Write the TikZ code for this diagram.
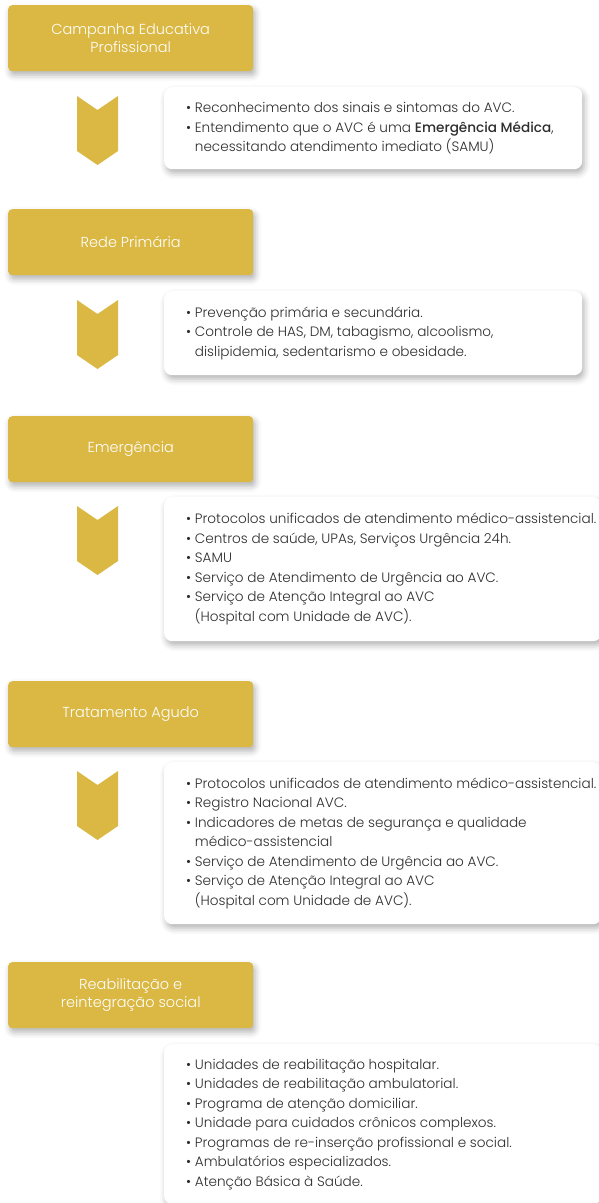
\documentclass[tikz,border=0pt]{standalone}
\usepackage{fontspec}
\setmainfont{Poppins}[UprightFont={* Light}, BoldFont={* Medium}]
\usepackage{tikz}
\usetikzlibrary{positioning,shadows.blur}

\definecolor{ouro}{HTML}{DAB843}
\definecolor{texto}{HTML}{2E2E2E}

\tikzset{
  sombra/.style={blur shadow={shadow xshift=2pt, shadow yshift=-4pt,
      shadow blur radius=6pt, shadow opacity=30}},
  etapa/.style={rectangle, rounded corners=4pt, fill=ouro, text=white,
      minimum width=245, minimum height=66, align=center, sombra,
      font=\fontsize{14.5}{18}\selectfont},
  caixa/.style={rectangle, rounded corners=8pt, fill=white, sombra},
  itens/.style={align=left, inner sep=0pt, text=texto,
      font=\fontsize{13.6}{19.5}\selectfont},
  seta/.pic={\fill[ouro] (0,0) -- (20.5,14) -- (41,0) -- (41,55)
      -- (20.5,69) -- (0,55) -- cycle;}
}

\newcommand{\bul}{\textbullet\ }
\newcommand{\cont}{\phantom{\textbullet\ }}

\begin{document}
\begin{tikzpicture}[x=1pt, y=-1pt]
\useasboundingbox (0,0) rectangle (599,1203);

% etapas
\node[etapa, anchor=north west] (etapa1) at (8,5) {Campanha Educativa\\Profissional};
\node[etapa, anchor=north west] (etapa2) at (8,209) {Rede Primária};
\node[etapa, anchor=north west] (etapa3) at (8,416) {Emergência};
\node[etapa, anchor=north west] (etapa4) at (8,681) {Tratamento Agudo};
\node[etapa, anchor=north west] (etapa5) at (8,962) {Reabilitação e\\reintegração social};

% caixas de itens
\node[caixa, anchor=north west, minimum width=418, minimum height=82] (info1) at (164,87) {};
\node[caixa, anchor=north west, minimum width=418, minimum height=84] (info2) at (164,291) {};
\node[caixa, anchor=north west, minimum width=437, minimum height=144] (info3) at (164,497) {};
\node[caixa, anchor=north west, minimum width=437, minimum height=162] (info4) at (164,762) {};
\node[caixa, anchor=north west, minimum width=437, minimum height=160] (info5) at (164,1044) {};

% setas
\pic at (77,96) {seta};
\pic at (77,300) {seta};
\pic at (77,506) {seta};
\pic at (77,771) {seta};

\node[itens, right=22pt of info1.west] (txt1) {%
  \bul Reconhecimento dos sinais e sintomas do AVC.\\
  \bul Entendimento que o AVC é uma \textbf{Emergência Médica},\\
  \cont necessitando atendimento imediato (SAMU)};
\node[itens, right=22pt of info2.west] (txt2) {%
  \bul Prevenção primária e secundária.\\
  \bul Controle de HAS, DM, tabagismo, alcoolismo,\\
  \cont dislipidemia, sedentarismo e obesidade.};
\node[itens, right=22pt of info3.west] (txt3) {%
  \bul Protocolos unificados de atendimento médico-assistencial.\\
  \bul Centros de saúde, UPAs, Serviços Urgência 24h.\\
  \bul SAMU\\
  \bul Serviço de Atendimento de Urgência ao AVC.\\
  \bul Serviço de Atenção Integral ao AVC\\
  \cont (Hospital com Unidade de AVC).};
\node[itens, right=22pt of info4.west] (txt4) {%
  \bul Protocolos unificados de atendimento médico-assistencial.\\
  \bul Registro Nacional AVC.\\
  \bul Indicadores de metas de segurança e qualidade\\
  \cont médico-assistencial\\
  \bul Serviço de Atendimento de Urgência ao AVC.\\
  \bul Serviço de Atenção Integral ao AVC\\
  \cont (Hospital com Unidade de AVC).};
\node[itens, right=22pt of info5.west] (txt5) {%
  \bul Unidades de reabilitação hospitalar.\\
  \bul Unidades de reabilitação ambulatorial.\\
  \bul Programa de atenção domiciliar.\\
  \bul Unidade para cuidados crônicos complexos.\\
  \bul Programas de re-inserção profissional e social.\\
  \bul Ambulatórios especializados.\\
  \bul Atenção Básica à Saúde.};
\end{tikzpicture}
\end{document}
